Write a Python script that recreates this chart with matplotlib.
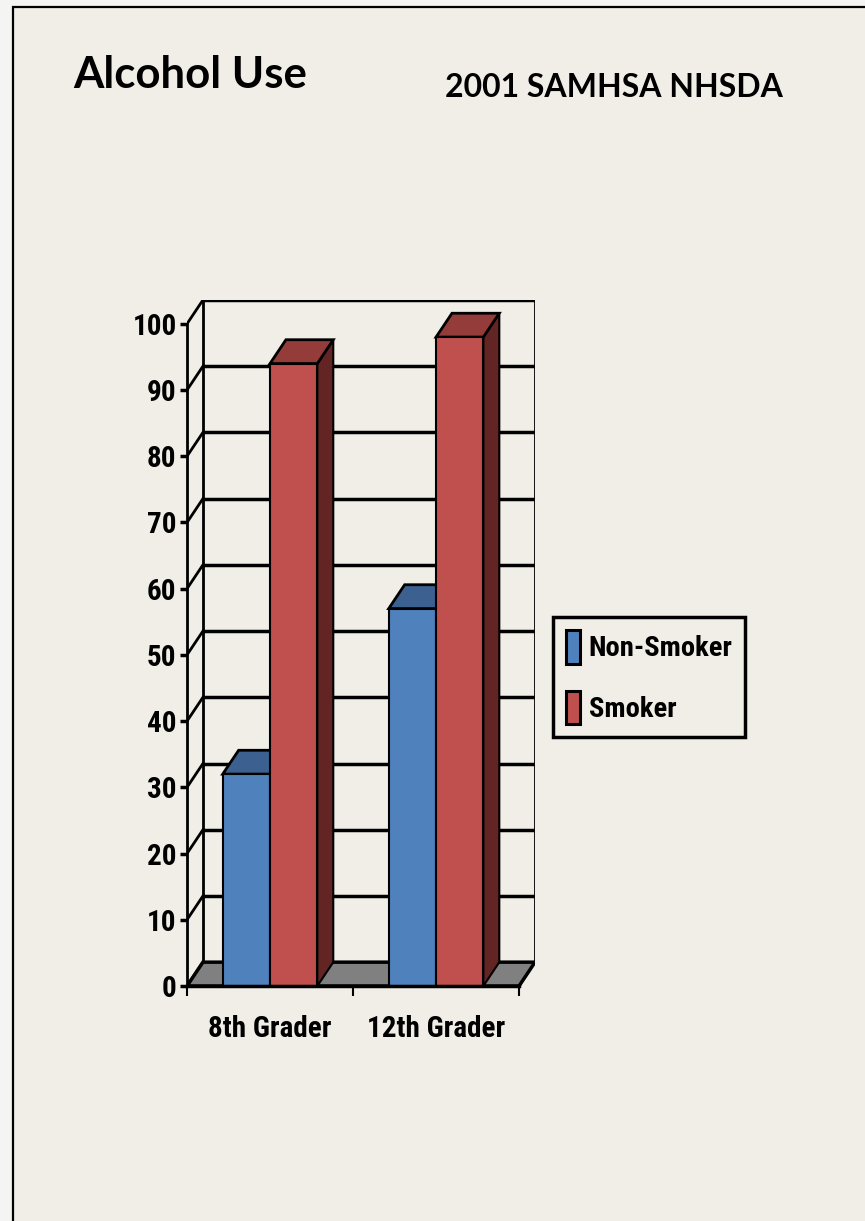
import matplotlib
matplotlib.use('Agg')
import matplotlib.pyplot as plt
from matplotlib.patches import Polygon, Rectangle, Patch
from matplotlib.ticker import FixedLocator, NullFormatter, FixedFormatter

# data
categories = ['8th Grader', '12th Grader']
series_names = ['Non-Smoker', 'Smoker']
non_smoker = [32, 57]
smoker = [94, 98]
y_ticks = [0, 10, 20, 30, 40, 50, 60, 70, 80, 90, 100]

title = 'Alcohol Use'
source = '2001 SAMHSA NHSDA'

# look
PANEL = '#f1eee7'
OUTSIDE = '#f4f4f3'
FRONT = ['#4f81bd', '#c0504d']
TOP = ['#3c6190', '#943c3a']
SIDE = ['#2b4566', '#632523']
FLOOR = '#808080'
NARROW = ['Liberation Sans Narrow', 'Roboto Condensed', 'Arial Narrow', 'Liberation Sans', 'DejaVu Sans']
LAB_SIZE = 21

D_X = 0.096   # depth shift, category units
D_Y = 3.6     # depth shift, value units
BAR_W = 0.285
GRID_LW = 2.5

W, H = 865, 1221
fig = plt.figure(figsize=(W / 100, H / 100), dpi=100, facecolor=OUTSIDE)

# slide panel
fig.patches.append(Rectangle((13 / W, -0.05), 1.1, 1.05 - 7 / H, transform=fig.transFigure,
                             facecolor=PANEL, edgecolor='black', linewidth=1.6, zorder=-5))

fig.text(73 / W, 1 - 88 / H, title, fontsize=31.5, fontweight='bold', family=['Lato', 'DejaVu Sans'],
         va='baseline', ha='left')
fig.text(445 / W, 1 - 97 / H, source, fontsize=23, fontweight='bold', family=['Lato', 'DejaVu Sans'],
         va='baseline', ha='left')

ax = fig.add_axes([187 / W, (H - 986) / H, 348 / W, 686 / H])
ax.patch.set_visible(False)
ax.set_xlim(0, len(categories) + D_X)
ax.set_ylim(0, 100 + D_Y)

n_cat = len(categories)

# back wall gridlines, side wall diagonals
for v in y_ticks[1:]:
    ax.plot([D_X, n_cat + D_X], [v + D_Y, v + D_Y], color='black', lw=GRID_LW, zorder=1,
            solid_capstyle='butt')
for v in y_ticks:
    ax.plot([0, D_X], [v, v + D_Y], color='black', lw=GRID_LW * 0.8, zorder=1)
for xb in (D_X, n_cat + D_X):
    ax.plot([xb, xb], [D_Y, 100 + D_Y], color='black', lw=GRID_LW * 0.8, zorder=1)

# floor
ax.add_patch(Polygon([(0, 0), (n_cat, 0), (n_cat + D_X, D_Y), (D_X, D_Y)], closed=True,
                     facecolor=FLOOR, edgecolor='black', lw=GRID_LW, zorder=2, joinstyle='miter'))

# bars
for s, vals in enumerate([non_smoker, smoker]):
    for c, v in enumerate(vals):
        x0 = c + 0.5 + (s - 1) * BAR_W
        x1 = x0 + BAR_W
        ax.add_patch(Polygon([(x1, 0), (x1 + D_X, D_Y), (x1 + D_X, v + D_Y), (x1, v)],
                             facecolor=SIDE[s], edgecolor='black', lw=1.5, zorder=3 + s))
        ax.add_patch(Polygon([(x0, v), (x1, v), (x1 + D_X, v + D_Y), (x0 + D_X, v + D_Y)],
                             facecolor=TOP[s], edgecolor='black', lw=2.0, zorder=3 + s))
    ax.bar([c + 0.5 + (s - 1) * BAR_W for c in range(n_cat)], vals, BAR_W, align='edge',
           color=FRONT[s], edgecolor='black', lw=1.5, zorder=3 + s, label=series_names[s])

# axes
for sp in ('top', 'right'):
    ax.spines[sp].set_visible(False)
ax.spines['left'].set_bounds(0, 100)
ax.spines['bottom'].set_bounds(0, n_cat)
ax.spines['left'].set_linewidth(2.0)
ax.spines['bottom'].set_linewidth(GRID_LW)
ax.spines['left'].set_zorder(6)
ax.spines['bottom'].set_zorder(6)

ax.set_yticks(y_ticks)
ax.set_yticklabels([str(t) for t in y_ticks], family=NARROW, fontweight='bold', fontsize=LAB_SIZE)
ax.tick_params(axis='y', direction='out', length=5, width=GRID_LW, pad=2.5)

ax.xaxis.set_major_locator(FixedLocator(list(range(n_cat + 1))))
ax.xaxis.set_major_formatter(NullFormatter())
ax.xaxis.set_minor_locator(FixedLocator([c + 0.5 for c in range(n_cat)]))
ax.xaxis.set_minor_formatter(FixedFormatter(categories))
ax.tick_params(axis='x', which='major', direction='out', length=7, width=1.5)
ax.tick_params(axis='x', which='minor', length=0, pad=21)
for lab in ax.get_xticklabels(minor=True):
    lab.set_family(NARROW)
    lab.set_fontweight('bold')
    lab.set_fontsize(LAB_SIZE)

handles = [Patch(facecolor=FRONT[s], edgecolor='black', lw=2.2, label=series_names[s]) for s in range(2)]
leg = fig.legend(handles=handles, loc='upper left', bbox_to_anchor=(553 / W, 1 - 617 / H),
                 frameon=True, fancybox=False, edgecolor='black', facecolor=PANEL, framealpha=1,
                 prop={'family': NARROW, 'weight': 'bold', 'size': LAB_SIZE - 0.5},
                 handlelength=0.5, handleheight=1.45, handletextpad=0.3, labelspacing=0.95,
                 borderpad=0.45, borderaxespad=0)
leg.get_frame().set_linewidth(2.5)

fig.savefig('out.png', dpi=100, facecolor=OUTSIDE)
